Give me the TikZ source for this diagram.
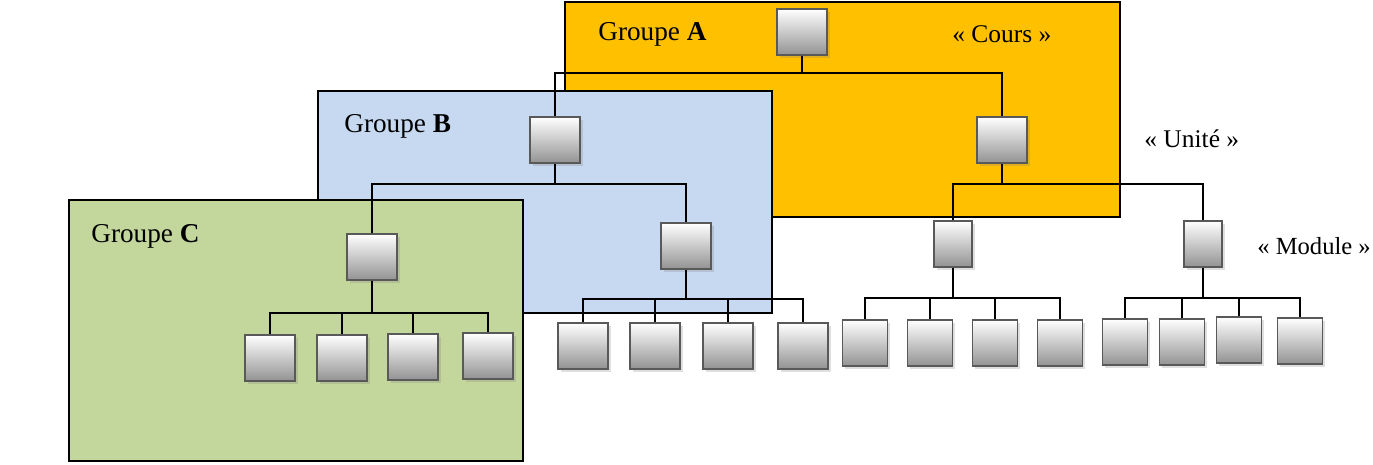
\documentclass[tikz,border=0pt]{standalone}
\usepackage{fontspec}
\setmainfont{Liberation Serif}
\usetikzlibrary{shadows}
\definecolor{orangeA}{HTML}{FFC000}
\definecolor{blueB}{HTML}{C6D9F1}
\definecolor{greenC}{HTML}{C3D69B}
\tikzset{
  unit/.style={draw=gray!70!black, line width=1pt, top color=white, bottom color=gray!85,
    minimum width=1cm, minimum height=0.92cm, inner sep=0pt,
    drop shadow={shadow xshift=1.5pt, shadow yshift=-1.5pt, opacity=0.25}},
  unitn/.style={unit, minimum width=0.9cm},
  groupe/.style={draw=black, line width=1.2pt},
  link/.style={line width=1.1pt},
  lbl/.style={font=\fontsize{14.5}{16}\selectfont, anchor=west, inner sep=0pt},
  glbl/.style={lbl, font=\fontsize{15.5}{17}\selectfont}
}
\begin{document}
\begin{tikzpicture}[x=0.02cm, y=-0.02cm]
    \useasboundingbox (0,0) rectangle (1373,465);

    % Groups
    \draw[groupe, fill=orangeA] (565,2) rectangle (1120,217);
    \draw[groupe, fill=blueB] (318,91) rectangle (772,313);
    \draw[groupe, fill=greenC] (69,200) rectangle (523,461);

    \node[glbl] (tA) at (598,34) {Groupe \textbf{A}};
    \node[glbl] (tB) at (344,126) {Groupe \textbf{B}};
    \node[glbl] (tC) at (91,236) {Groupe \textbf{C}};
    \node[lbl] (cours) at (952,34) {« Cours »};
    \node[lbl] (unite) at (1144,139) {« Unité »};
    \node[lbl, font=\fontsize{14}{16}\selectfont] (module) at (1257,246) {« Module »};

    % Units
    \node[unit] (root) at (802,32) {};
    \node[unit] (u1) at (555,140) {};
    \node[unit] (u2) at (1002,140) {};
    \node[unit] (m1) at (372,257) {};
    \node[unit] (m2) at (686,246) {};
    \node[unit, minimum width=0.76cm] (m3) at (953,244) {};
    \node[unit, minimum width=0.76cm] (m4) at (1203,244) {};

    \node[unit] (c1) at (270,358) {};
    \node[unit] (c2) at (342,358) {};
    \node[unit] (c3) at (413,357) {};
    \node[unit] (c4) at (488,356) {};

    \node[unit] (b1) at (583,346) {};
    \node[unit] (b2) at (655,346) {};
    \node[unit] (b3) at (728,346) {};
    \node[unit] (b4) at (803,346) {};

    \node[unitn] (d1) at (865,343) {};
    \node[unitn] (d2) at (930,343) {};
    \node[unitn] (d3) at (995,343) {};
    \node[unitn] (d4) at (1060,343) {};

    \node[unitn] (e1) at (1125,342) {};
    \node[unitn] (e2) at (1182,342) {};
    \node[unitn] (e3) at (1239,340) {};
    \node[unitn] (e4) at (1300,341) {};

    % Links
    \draw[link] (root.south) -- ++(0,17) -| (u1.north);
    \draw[link] (root.south) -- ++(0,17) -| (u2.north);

    \draw[link] (u1.south) -- ++(0,20) -| (m1.north);
    \draw[link] (u1.south) -- ++(0,20) -| (m2.north);
    \draw[link] (u2.south) -- ++(0,20) -| (m3.north);
    \draw[link] (u2.south) -- ++(0,20) -| (m4.north);

    \draw[link] (m1.south) -- ++(0,32) -| (c1.north);
    \draw[link] (m1.south) -- ++(0,32) -| (c2.north);
    \draw[link] (m1.south) -- ++(0,32) -| (c3.north);
    \draw[link] (m1.south) -- ++(0,32) -| (c4.north);

    \draw[link] (m2.south) -- ++(0,29) -| (b1.north);
    \draw[link] (m2.south) -- ++(0,29) -| (b2.north);
    \draw[link] (m2.south) -- ++(0,29) -| (b3.north);
    \draw[link] (m2.south) -- ++(0,29) -| (b4.north);

    \draw[link] (m3.south) -- ++(0,30) -| (d1.north);
    \draw[link] (m3.south) -- ++(0,30) -| (d2.north);
    \draw[link] (m3.south) -- ++(0,30) -| (d3.north);
    \draw[link] (m3.south) -- ++(0,30) -| (d4.north);

    \draw[link] (m4.south) -- ++(0,30) -| (e1.north);
    \draw[link] (m4.south) -- ++(0,30) -| (e2.north);
    \draw[link] (m4.south) -- ++(0,30) -| (e3.north);
    \draw[link] (m4.south) -- ++(0,30) -| (e4.north);
\end{tikzpicture}
\end{document}
